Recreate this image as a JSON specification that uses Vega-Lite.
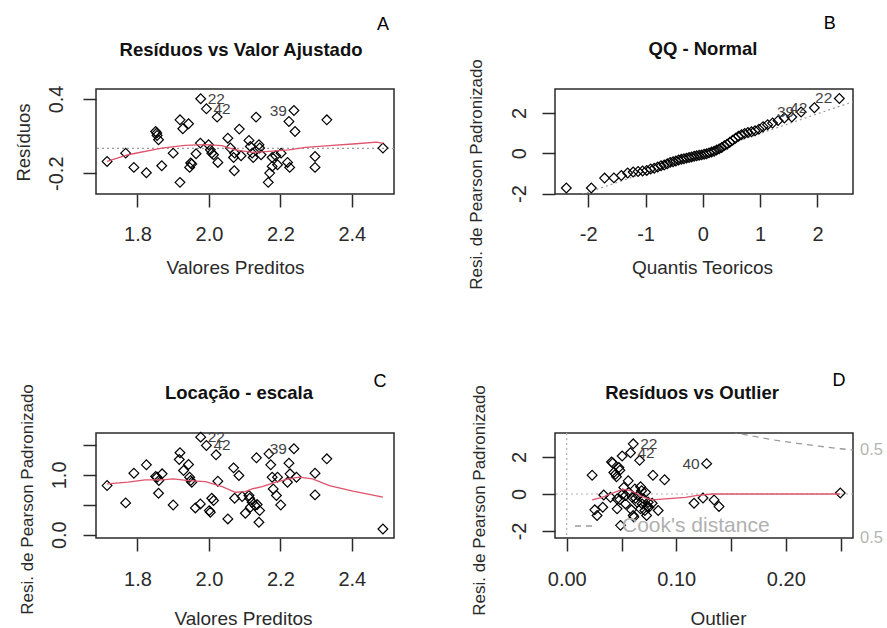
{
  "$schema": "https://vega.github.io/schema/vega-lite/v6.json",
  "background": "white",
  "padding": {"left": 13, "top": 14, "right": 0, "bottom": 2},
  "bounds": "flush",
  "columns": 2,
  "spacing": {"column": 161, "row": 239},
  "datasets": {
    "A_pts": [
      {"x": 1.715, "y": -0.105}, {"x": 1.767, "y": -0.038}, {"x": 1.790, "y": -0.153}, {"x": 1.825, "y": -0.196},
      {"x": 1.851, "y": 0.137}, {"x": 1.854, "y": 0.124}, {"x": 1.855, "y": 0.105}, {"x": 1.859, "y": 0.070},
      {"x": 1.868, "y": -0.140}, {"x": 1.900, "y": -0.038}, {"x": 1.919, "y": 0.231}, {"x": 1.927, "y": 0.159},
      {"x": 1.943, "y": 0.199}, {"x": 1.919, "y": -0.274}, {"x": 1.949, "y": -0.118}, {"x": 1.952, "y": -0.126},
      {"x": 1.946, "y": -0.153}, {"x": 1.964, "y": -0.043}, {"x": 1.977, "y": 0.401, "id": "22"}, {"x": 1.993, "y": 0.320, "id": "42"},
      {"x": 2.023, "y": 0.253}, {"x": 1.976, "y": 0.043}, {"x": 1.999, "y": 0.030}, {"x": 2.004, "y": -0.011},
      {"x": 2.008, "y": -0.038}, {"x": 2.013, "y": -0.051}, {"x": 2.025, "y": -0.113}, {"x": 2.053, "y": 0.083},
      {"x": 2.060, "y": 0.003}, {"x": 2.072, "y": -0.038}, {"x": 2.069, "y": -0.073}, {"x": 2.071, "y": -0.180},
      {"x": 2.085, "y": 0.156}, {"x": 2.090, "y": -0.059}, {"x": 2.112, "y": 0.065}, {"x": 2.116, "y": 0.016},
      {"x": 2.121, "y": -0.038}, {"x": 2.124, "y": -0.073}, {"x": 2.132, "y": 0.253}, {"x": 2.140, "y": 0.030},
      {"x": 2.142, "y": 0.003}, {"x": 2.146, "y": -0.051}, {"x": 2.177, "y": -0.073}, {"x": 2.187, "y": -0.059},
      {"x": 2.177, "y": -0.145}, {"x": 2.170, "y": -0.199}, {"x": 2.166, "y": -0.274}, {"x": 2.192, "y": -0.132},
      {"x": 2.202, "y": -0.038}, {"x": 2.220, "y": -0.113}, {"x": 2.226, "y": -0.153}, {"x": 2.224, "y": 0.218},
      {"x": 2.238, "y": 0.306, "id": "39"}, {"x": 2.241, "y": 0.137}, {"x": 2.297, "y": -0.065}, {"x": 2.297, "y": -0.153},
      {"x": 2.330, "y": 0.231}, {"x": 2.487, "y": 0.003}
    ],
    "A_loess": [
      {"x": 1.715, "y": -0.104}, {"x": 1.774, "y": -0.051}, {"x": 1.868, "y": 0.003}, {"x": 1.933, "y": 0.024},
      {"x": 1.990, "y": 0.030}, {"x": 2.037, "y": 0.022}, {"x": 2.074, "y": -0.011}, {"x": 2.121, "y": -0.032},
      {"x": 2.168, "y": -0.024}, {"x": 2.224, "y": -0.011}, {"x": 2.271, "y": 0.008}, {"x": 2.337, "y": 0.022},
      {"x": 2.412, "y": 0.038}, {"x": 2.469, "y": 0.051}, {"x": 2.487, "y": 0.040}
    ],
    "B_pts": [
      {"x": -2.382, "y": -1.72}, {"x": -1.946, "y": -1.72}, {"x": -1.715, "y": -1.23}, {"x": -1.552, "y": -1.22},
      {"x": -1.422, "y": -1.10}, {"x": -1.312, "y": -0.98}, {"x": -1.216, "y": -0.93}, {"x": -1.130, "y": -0.90},
      {"x": -1.051, "y": -0.88}, {"x": -0.979, "y": -0.85}, {"x": -0.911, "y": -0.78}, {"x": -0.848, "y": -0.74},
      {"x": -0.787, "y": -0.68}, {"x": -0.730, "y": -0.62}, {"x": -0.674, "y": -0.58}, {"x": -0.621, "y": -0.52},
      {"x": -0.570, "y": -0.45}, {"x": -0.520, "y": -0.42}, {"x": -0.471, "y": -0.38}, {"x": -0.423, "y": -0.33},
      {"x": -0.376, "y": -0.30}, {"x": -0.330, "y": -0.27}, {"x": -0.285, "y": -0.24}, {"x": -0.240, "y": -0.21},
      {"x": -0.196, "y": -0.18}, {"x": -0.152, "y": -0.15}, {"x": -0.108, "y": -0.12}, {"x": -0.065, "y": -0.10},
      {"x": -0.022, "y": -0.08}, {"x": 0.022, "y": -0.05}, {"x": 0.065, "y": -0.02}, {"x": 0.108, "y": 0.02},
      {"x": 0.152, "y": 0.06}, {"x": 0.196, "y": 0.10}, {"x": 0.240, "y": 0.16}, {"x": 0.285, "y": 0.22},
      {"x": 0.330, "y": 0.29}, {"x": 0.376, "y": 0.38}, {"x": 0.423, "y": 0.45}, {"x": 0.471, "y": 0.55},
      {"x": 0.520, "y": 0.65}, {"x": 0.570, "y": 0.75}, {"x": 0.621, "y": 0.85}, {"x": 0.674, "y": 0.92},
      {"x": 0.730, "y": 0.98}, {"x": 0.787, "y": 1.03}, {"x": 0.848, "y": 1.07}, {"x": 0.911, "y": 1.12},
      {"x": 0.979, "y": 1.20}, {"x": 1.051, "y": 1.32}, {"x": 1.130, "y": 1.42}, {"x": 1.216, "y": 1.50},
      {"x": 1.312, "y": 1.62}, {"x": 1.422, "y": 1.75}, {"x": 1.552, "y": 1.80}, {"x": 1.715, "y": 2.05, "id": "39"},
      {"x": 1.946, "y": 2.26, "id": "42"}, {"x": 2.382, "y": 2.72, "id": "22"}
    ],
    "B_line": [{"x": -2.6, "y": -2.52}, {"x": 2.62, "y": 2.56}],
    "C_pts": [
      {"x": 1.715, "y": 0.821}, {"x": 1.767, "y": 0.531}, {"x": 1.790, "y": 1.028}, {"x": 1.825, "y": 1.168},
      {"x": 1.851, "y": 0.972}, {"x": 1.855, "y": 0.961}, {"x": 1.860, "y": 0.905}, {"x": 1.859, "y": 0.693},
      {"x": 1.869, "y": 1.017}, {"x": 1.900, "y": 0.497}, {"x": 1.919, "y": 1.369}, {"x": 1.917, "y": 1.257},
      {"x": 1.929, "y": 1.073}, {"x": 1.943, "y": 1.173}, {"x": 1.946, "y": 0.961}, {"x": 1.949, "y": 0.905},
      {"x": 1.952, "y": 0.877}, {"x": 1.962, "y": 0.447}, {"x": 1.976, "y": 0.514}, {"x": 2.008, "y": 0.609},
      {"x": 2.013, "y": 0.570}, {"x": 2.001, "y": 0.402}, {"x": 2.004, "y": 0.374}, {"x": 1.977, "y": 1.631, "id": "22"},
      {"x": 1.993, "y": 1.492, "id": "42"}, {"x": 2.020, "y": 1.335}, {"x": 2.025, "y": 0.894}, {"x": 2.053, "y": 0.263},
      {"x": 2.069, "y": 1.117}, {"x": 2.072, "y": 0.609}, {"x": 2.084, "y": 0.989}, {"x": 2.093, "y": 0.637},
      {"x": 2.102, "y": 0.358}, {"x": 2.112, "y": 0.654}, {"x": 2.114, "y": 0.609}, {"x": 2.121, "y": 0.542},
      {"x": 2.116, "y": 0.458}, {"x": 2.129, "y": 0.486}, {"x": 2.133, "y": 1.285}, {"x": 2.135, "y": 0.503},
      {"x": 2.140, "y": 0.207}, {"x": 2.142, "y": 0.402}, {"x": 2.168, "y": 1.352}, {"x": 2.173, "y": 1.168},
      {"x": 2.177, "y": 0.961}, {"x": 2.180, "y": 0.765}, {"x": 2.189, "y": 0.654}, {"x": 2.192, "y": 0.961},
      {"x": 2.201, "y": 0.497}, {"x": 2.220, "y": 0.877}, {"x": 2.224, "y": 1.196}, {"x": 2.227, "y": 1.017},
      {"x": 2.238, "y": 1.436, "id": "39"}, {"x": 2.245, "y": 0.961}, {"x": 2.297, "y": 1.028}, {"x": 2.297, "y": 0.665},
      {"x": 2.330, "y": 1.268}, {"x": 2.487, "y": 0.095}
    ],
    "C_loess": [
      {"x": 1.715, "y": 0.849}, {"x": 1.774, "y": 0.877}, {"x": 1.821, "y": 0.916}, {"x": 1.868, "y": 0.916},
      {"x": 1.900, "y": 0.933}, {"x": 1.943, "y": 0.905}, {"x": 1.990, "y": 0.888}, {"x": 2.037, "y": 0.804},
      {"x": 2.074, "y": 0.709}, {"x": 2.102, "y": 0.721}, {"x": 2.121, "y": 0.765}, {"x": 2.149, "y": 0.804},
      {"x": 2.187, "y": 0.877}, {"x": 2.224, "y": 0.933}, {"x": 2.253, "y": 0.961}, {"x": 2.290, "y": 0.933},
      {"x": 2.337, "y": 0.821}, {"x": 2.403, "y": 0.726}, {"x": 2.487, "y": 0.626}
    ],
    "D_pts": [
      {"x": 0.0232, "y": 1.018}, {"x": 0.0256, "y": -0.857}, {"x": 0.0277, "y": -1.161}, {"x": 0.0329, "y": -0.714},
      {"x": 0.0338, "y": -0.054}, {"x": 0.0399, "y": -0.179}, {"x": 0.0409, "y": 1.732}, {"x": 0.0421, "y": 1.679},
      {"x": 0.0430, "y": 1.161}, {"x": 0.0445, "y": 1.071}, {"x": 0.0454, "y": 0.929}, {"x": 0.0460, "y": -0.804},
      {"x": 0.0476, "y": 1.429}, {"x": 0.0485, "y": 1.286}, {"x": 0.0491, "y": -1.696}, {"x": 0.0485, "y": -0.304},
      {"x": 0.0506, "y": 2.054}, {"x": 0.0512, "y": 0.0}, {"x": 0.0521, "y": 0.357}, {"x": 0.0537, "y": -0.089},
      {"x": 0.0561, "y": 0.714}, {"x": 0.0582, "y": 2.232, "id": "42"}, {"x": 0.0607, "y": 2.714, "id": "22"}, {"x": 0.0591, "y": -0.857},
      {"x": 0.0607, "y": -1.161}, {"x": 0.0613, "y": -1.25}, {"x": 0.0622, "y": 0.268}, {"x": 0.0628, "y": -0.232},
      {"x": 0.0643, "y": -0.446}, {"x": 0.0665, "y": 1.821}, {"x": 0.0674, "y": 0.393}, {"x": 0.0683, "y": 0.179},
      {"x": 0.0689, "y": -0.536}, {"x": 0.0704, "y": -0.268}, {"x": 0.0713, "y": -0.893}, {"x": 0.0729, "y": -1.161},
      {"x": 0.0735, "y": -0.679}, {"x": 0.0744, "y": -0.446}, {"x": 0.0750, "y": -0.714}, {"x": 0.0787, "y": 1.018},
      {"x": 0.0835, "y": -0.893}, {"x": 0.0893, "y": 0.768}, {"x": 0.1162, "y": -0.5}, {"x": 0.1244, "y": -0.214},
      {"x": 0.1277, "y": 1.643, "id": "40"}, {"x": 0.1345, "y": -0.321}, {"x": 0.1390, "y": -0.679}, {"x": 0.2497, "y": 0.054},
      {"x": 0.0537, "y": -0.536}, {"x": 0.0567, "y": 0.089}, {"x": 0.0652, "y": -0.089}, {"x": 0.0720, "y": 0.089},
      {"x": 0.0460, "y": -0.268}, {"x": 0.0598, "y": -0.179}, {"x": 0.0674, "y": -0.804}, {"x": 0.0780, "y": -0.5}
    ],
    "D_loess": [
      {"x": 0.0232, "y": -0.321}, {"x": 0.0323, "y": -0.179}, {"x": 0.0399, "y": 0.0}, {"x": 0.0476, "y": 0.179},
      {"x": 0.0521, "y": 0.25}, {"x": 0.0582, "y": 0.179}, {"x": 0.0628, "y": 0.054}, {"x": 0.0704, "y": -0.179},
      {"x": 0.0780, "y": -0.321}, {"x": 0.0902, "y": -0.268}, {"x": 0.1085, "y": -0.179}, {"x": 0.1177, "y": -0.089},
      {"x": 0.1329, "y": 0.0}, {"x": 0.2497, "y": 0.0}
    ],
    "D_cook": [
      {"x": 0.150, "y": 3.37}, {"x": 0.155, "y": 3.30}, {"x": 0.170, "y": 3.125}, {"x": 0.190, "y": 2.92},
      {"x": 0.210, "y": 2.743}, {"x": 0.230, "y": 2.588}, {"x": 0.250, "y": 2.449}, {"x": 0.2613, "y": 2.378}
    ],
    "D_cooklab": [{"y": 2.378, "label": "0.5"}, {"y": -2.378, "label": "0.5"}]
  },
  "concat": [
    {
      "width": 298, "height": 105,
      "title": {"text": "Resíduos vs Valor Ajustado", "dx": -4, "dy": 47},
      "layer": [
        {"data": {"values": [{}]}, "mark": {"type": "rule", "color": "#9a9a9a", "strokeDash": [2, 3], "strokeWidth": 1.2},
          "encoding": {"y": {"datum": 0}}},
        {"data": {"name": "A_pts"}, "mark": {"type": "point", "shape": "diamond", "filled": false, "color": "black", "opacity": 1, "size": 95, "strokeWidth": 1.2},
          "encoding": {
            "x": {"field": "x", "type": "quantitative", "scale": {"domain": [1.684, 2.518], "nice": false, "zero": false},
              "axis": {"values": [1.8, 2.0, 2.2, 2.4], "format": ".1f", "title": "Valores Preditos", "titleX": 139, "titleY": 79, "labelPadding": 33.5}},
            "y": {"field": "y", "type": "quantitative", "scale": {"domain": [-0.368, 0.48], "nice": false, "zero": false},
              "axis": {"values": [-0.2, 0, 0.2, 0.4], "labelExpr": "abs(datum.value - 0.4) < 0.01 ? '0.4' : abs(datum.value + 0.2) < 0.01 ? '-0.2' : ''", "title": "Resíduos", "titleX": -67, "titleY": 53, "titleFontSize": 18.5, "labelPadding": 21}}
          }},
        {"data": {"name": "A_loess"}, "mark": {"type": "line", "color": "#DF536B", "strokeWidth": 1.3},
          "encoding": {
            "x": {"field": "x", "type": "quantitative", "scale": {"domain": [1.684, 2.518], "nice": false, "zero": false}},
            "y": {"field": "y", "type": "quantitative", "scale": {"domain": [-0.368, 0.48], "nice": false, "zero": false}}
          }},
        {"data": {"name": "A_pts"}, "transform": [{"filter": "isValid(datum.id) && datum.x < 2.1"}],
          "mark": {"type": "text", "align": "left", "baseline": "middle", "dx": 7, "fontSize": 15.5, "color": "#444"},
          "encoding": {
            "x": {"field": "x", "type": "quantitative", "scale": {"domain": [1.684, 2.518], "nice": false, "zero": false}},
            "y": {"field": "y", "type": "quantitative", "scale": {"domain": [-0.368, 0.48], "nice": false, "zero": false}},
            "text": {"field": "id"}
          }},
        {"data": {"name": "A_pts"}, "transform": [{"filter": "isValid(datum.id) && datum.x >= 2.1"}],
          "mark": {"type": "text", "align": "right", "baseline": "middle", "dx": -7, "fontSize": 15.5, "color": "#444"},
          "encoding": {
            "x": {"field": "x", "type": "quantitative", "scale": {"domain": [1.684, 2.518], "nice": false, "zero": false}},
            "y": {"field": "y", "type": "quantitative", "scale": {"domain": [-0.368, 0.48], "nice": false, "zero": false}},
            "text": {"field": "id"}
          }},
        {"data": {"values": [{}]}, "mark": {"type": "text", "text": "A", "align": "center", "baseline": "alphabetic", "fontSize": 18, "color": "black"},
          "encoding": {"x": {"datum": 2.487}, "y": {"datum": 0.954}}}
      ]
    },
    {
      "width": 298, "height": 105,
      "title": {"text": "QQ - Normal", "dx": -1, "dy": 47},
      "layer": [
        {"data": {"name": "B_line"}, "mark": {"type": "line", "color": "#9a9a9a", "strokeDash": [2, 3], "strokeWidth": 1.2, "clip": true},
          "encoding": {
            "x": {"field": "x", "type": "quantitative", "scale": {"domain": [-2.58, 2.62], "nice": false, "zero": false}},
            "y": {"field": "y", "type": "quantitative", "scale": {"domain": [-2.02, 3.19], "nice": false, "zero": false}}
          }},
        {"data": {"name": "B_pts"}, "mark": {"type": "point", "shape": "diamond", "filled": false, "color": "black", "opacity": 1, "size": 95, "strokeWidth": 1.2},
          "encoding": {
            "x": {"field": "x", "type": "quantitative", "scale": {"domain": [-2.58, 2.62], "nice": false, "zero": false},
              "axis": {"values": [-2, -1, 0, 1, 2], "labelExpr": "'' + datum.value", "title": "Quantis Teoricos", "titleX": 147, "titleY": 79, "labelPadding": 33.5}},
            "y": {"field": "y", "type": "quantitative", "scale": {"domain": [-2.02, 3.19], "nice": false, "zero": false},
              "axis": {"values": [-2, -1, 0, 1, 2, 3], "labelExpr": "datum.value == 2 || datum.value == 0 || datum.value == -2 ? '' + datum.value : ''", "title": "Resi. de Pearson Padronizado", "titleX": -74, "titleY": 85, "titleFontSize": 17, "labelPadding": 17}}
          }},
        {"data": {"name": "B_pts"}, "transform": [{"filter": "isValid(datum.id)"}],
          "mark": {"type": "text", "align": "right", "baseline": "middle", "dx": -7, "fontSize": 15.5, "color": "#444"},
          "encoding": {
            "x": {"field": "x", "type": "quantitative", "scale": {"domain": [-2.58, 2.62], "nice": false, "zero": false}},
            "y": {"field": "y", "type": "quantitative", "scale": {"domain": [-2.02, 3.19], "nice": false, "zero": false}},
            "text": {"field": "id"}
          }},
        {"data": {"values": [{}]}, "mark": {"type": "text", "text": "B", "align": "center", "baseline": "alphabetic", "fontSize": 18, "color": "black"},
          "encoding": {"x": {"datum": 2.213}, "y": {"datum": 6.158}}}
      ]
    },
    {
      "width": 298, "height": 105,
      "title": {"text": "Locação - escala", "dx": -6, "dy": 33},
      "layer": [
        {"data": {"name": "C_pts"}, "mark": {"type": "point", "shape": "diamond", "filled": false, "color": "black", "opacity": 1, "size": 95, "strokeWidth": 1.2},
          "encoding": {
            "x": {"field": "x", "type": "quantitative", "scale": {"domain": [1.684, 2.518], "nice": false, "zero": false},
              "axis": {"values": [1.8, 2.0, 2.2, 2.4], "format": ".1f", "title": "Valores Preditos", "titleX": 147, "titleY": 86, "labelPadding": 34.6}},
            "y": {"field": "y", "type": "quantitative", "scale": {"domain": [-0.056, 1.70], "nice": false, "zero": false},
              "axis": {"tickCount": 4, "format": ".1f", "labelExpr": "datum.value < 0.25 ? '0.0' : datum.value > 0.75 && datum.value < 1.25 ? '1.0' : ''", "labelOverlap": false, "labelBound": false, "title": "Resi. de Pearson Padronizado", "titleX": -64, "titleY": 66, "titleFontSize": 17, "labelPadding": 18}}
          }},
        {"data": {"name": "C_loess"}, "mark": {"type": "line", "color": "#DF536B", "strokeWidth": 1.3},
          "encoding": {
            "x": {"field": "x", "type": "quantitative", "scale": {"domain": [1.684, 2.518], "nice": false, "zero": false}},
            "y": {"field": "y", "type": "quantitative", "scale": {"domain": [-0.056, 1.70], "nice": false, "zero": false}}
          }},
        {"data": {"name": "C_pts"}, "transform": [{"filter": "isValid(datum.id) && datum.x < 2.1"}],
          "mark": {"type": "text", "align": "left", "baseline": "middle", "dx": 7, "fontSize": 15.5, "color": "#444"},
          "encoding": {
            "x": {"field": "x", "type": "quantitative", "scale": {"domain": [1.684, 2.518], "nice": false, "zero": false}},
            "y": {"field": "y", "type": "quantitative", "scale": {"domain": [-0.056, 1.70], "nice": false, "zero": false}},
            "text": {"field": "id"}
          }},
        {"data": {"name": "C_pts"}, "transform": [{"filter": "isValid(datum.id) && datum.x >= 2.1"}],
          "mark": {"type": "text", "align": "right", "baseline": "middle", "dx": -7, "fontSize": 15.5, "color": "#444"},
          "encoding": {
            "x": {"field": "x", "type": "quantitative", "scale": {"domain": [1.684, 2.518], "nice": false, "zero": false}},
            "y": {"field": "y", "type": "quantitative", "scale": {"domain": [-0.056, 1.70], "nice": false, "zero": false}},
            "text": {"field": "id"}
          }},
        {"data": {"values": [{}]}, "mark": {"type": "text", "text": "C", "align": "center", "baseline": "alphabetic", "fontSize": 18, "color": "black"},
          "encoding": {"x": {"datum": 2.479}, "y": {"datum": 2.464}}}
      ]
    },
    {
      "width": 298, "height": 105,
      "title": {"text": "Resíduos vs Outlier", "dx": -12, "dy": 34},
      "layer": [
        {"data": {"values": [{}]}, "mark": {"type": "rule", "color": "#b0b0b0", "strokeDash": [2, 3], "strokeWidth": 1.2},
          "encoding": {"x": {"datum": 0}}},
        {"data": {"values": [{}]}, "mark": {"type": "rule", "color": "#b0b0b0", "strokeDash": [2, 3], "strokeWidth": 1.2},
          "encoding": {"y": {"datum": 0}}},
        {"data": {"name": "D_cook"}, "mark": {"type": "line", "strokeDash": [6, 5], "strokeWidth": 1.3, "clip": true},
          "encoding": {
            "x": {"field": "x", "type": "quantitative", "scale": {"domain": [-0.0107, 0.2613], "nice": false, "zero": false}},
            "y": {"field": "y", "type": "quantitative", "scale": {"domain": [-2.38, 3.30], "nice": false, "zero": false}},
            "color": {"datum": "Cook's distance", "type": "nominal", "scale": {"range": ["#9a9a9a"]},
              "legend": {"orient": "none", "legendX": 478, "legendY": 425, "title": null, "symbolType": "stroke", "symbolDash": [6, 5], "symbolSize": 484, "symbolStrokeWidth": 1.5, "labelFontSize": 21, "labelColor": "#b0b0b0", "labelOffset": 24, "padding": 0, "labelFont": "Liberation Sans"}}
          }},
        {"data": {"name": "D_pts"}, "mark": {"type": "point", "shape": "diamond", "filled": false, "color": "black", "opacity": 1, "size": 95, "strokeWidth": 1.2},
          "encoding": {
            "x": {"field": "x", "type": "quantitative", "scale": {"domain": [-0.0107, 0.2613], "nice": false, "zero": false},
              "axis": {"values": [0, 0.05, 0.1, 0.15, 0.2, 0.25], "labelExpr": "abs(datum.value - 0.05) < 0.001 || abs(datum.value - 0.15) < 0.001 || abs(datum.value - 0.25) < 0.001 ? '' : format(datum.value, '.2f')", "title": "Outlier", "titleX": 163, "titleY": 86, "labelPadding": 34.6}},
            "y": {"field": "y", "type": "quantitative", "scale": {"domain": [-2.38, 3.30], "nice": false, "zero": false},
              "axis": {"values": [-2, -1, 0, 1, 2, 3], "labelExpr": "datum.value == 2 || datum.value == 0 || datum.value == -2 ? '' + datum.value : ''", "title": "Resi. de Pearson Padronizado", "titleX": -71, "titleY": 67, "titleFontSize": 17, "labelPadding": 17}}
          }},
        {"data": {"name": "D_loess"}, "mark": {"type": "line", "color": "#DF536B", "strokeWidth": 1.3},
          "encoding": {
            "x": {"field": "x", "type": "quantitative", "scale": {"domain": [-0.0107, 0.2613], "nice": false, "zero": false}},
            "y": {"field": "y", "type": "quantitative", "scale": {"domain": [-2.38, 3.30], "nice": false, "zero": false}}
          }},
        {"data": {"name": "D_pts"}, "transform": [{"filter": "isValid(datum.id) && datum.x < 0.1"}],
          "mark": {"type": "text", "align": "left", "baseline": "middle", "dx": 7, "fontSize": 15.5, "color": "#444"},
          "encoding": {
            "x": {"field": "x", "type": "quantitative", "scale": {"domain": [-0.0107, 0.2613], "nice": false, "zero": false}},
            "y": {"field": "y", "type": "quantitative", "scale": {"domain": [-2.38, 3.30], "nice": false, "zero": false}},
            "text": {"field": "id"}
          }},
        {"data": {"name": "D_pts"}, "transform": [{"filter": "isValid(datum.id) && datum.x >= 0.1"}],
          "mark": {"type": "text", "align": "right", "baseline": "middle", "dx": -7, "fontSize": 15.5, "color": "#444"},
          "encoding": {
            "x": {"field": "x", "type": "quantitative", "scale": {"domain": [-0.0107, 0.2613], "nice": false, "zero": false}},
            "y": {"field": "y", "type": "quantitative", "scale": {"domain": [-2.38, 3.30], "nice": false, "zero": false}},
            "text": {"field": "id"}
          }},
        {"data": {"name": "D_cooklab"}, "mark": {"type": "text", "align": "left", "baseline": "middle", "dx": 7, "fontSize": 16.5, "color": "#b5b5b5"},
          "encoding": {
            "x": {"datum": 0.2613},
            "y": {"field": "y", "type": "quantitative", "scale": {"domain": [-2.38, 3.30], "nice": false, "zero": false}},
            "text": {"field": "label"}
          }},
        {"data": {"values": [{}]}, "mark": {"type": "text", "text": "D", "align": "center", "baseline": "alphabetic", "fontSize": 18, "color": "black"},
          "encoding": {"x": {"datum": 0.2485}, "y": {"datum": 5.826}}}
      ]
    }
  ],
  "config": {
    "font": "Liberation Sans",
    "view": {"stroke": "#2a2a2a", "strokeWidth": 1.5},
    "axis": {"grid": false, "domain": false, "tickColor": "#2a2a2a", "tickWidth": 1.5, "tickSize": 13,
      "labelFont": "Liberation Sans", "labelFontSize": 20, "labelColor": "#2a2a2a", "labelFlush": false, "labelOverlap": false,
      "titleFont": "Liberation Sans", "titleFontWeight": "normal", "titleColor": "#2a2a2a", "titleFontSize": 19},
    "axisX": {"labelBaseline": "alphabetic", "titleBaseline": "alphabetic", "titleAlign": "center", "titleAngle": 0},
    "axisY": {"labelAngle": -90, "labelAlign": "center", "labelBaseline": "alphabetic", "titleBaseline": "alphabetic", "titleAlign": "center", "titleAngle": -90},
    "title": {"font": "Liberation Sans", "fontSize": 18.5, "fontWeight": "bold", "color": "#111", "anchor": "middle", "frame": "group", "offset": 0},
    "text": {"font": "Liberation Sans"}
  }
}
